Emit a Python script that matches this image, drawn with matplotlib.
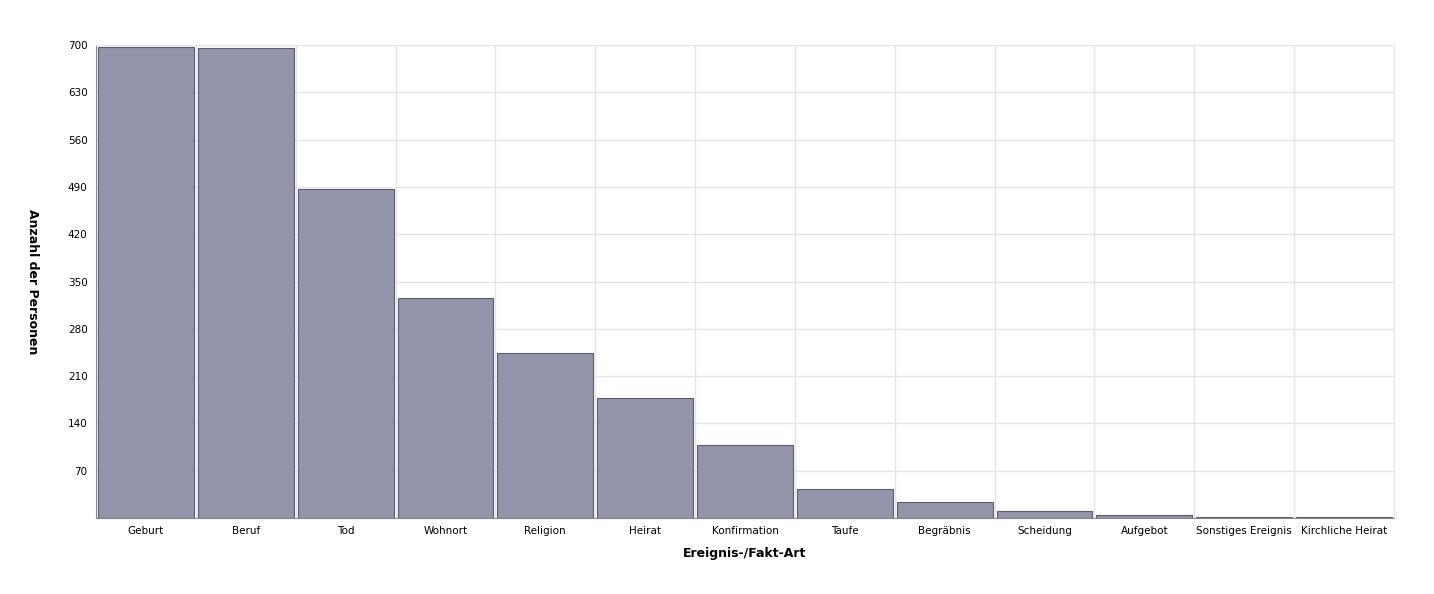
import matplotlib.pyplot as plt
import numpy as np

categories = ['Geburt', 'Beruf', 'Tod', 'Wohnort', 'Religion', 'Heirat', 'Konfirmation',
              'Taufe', 'Begräbnis', 'Scheidung', 'Aufgebot', 'Sonstiges Ereignis', 'Kirchliche Heirat']
counts = [697, 696, 487, 326, 244, 178, 108, 43, 24, 10, 4, 1, 1]
yticks = [70, 140, 210, 280, 350, 420, 490, 560, 630, 700]

fig = plt.figure(figsize=(14.34, 5.94), dpi=100)
ax = fig.add_axes([96 / 1434, 76 / 594, 1298 / 1434, 473 / 594])

x = np.arange(len(categories))
ax.bar(x, counts, width=0.96, color='#9494aa', edgecolor='#5c5c70', linewidth=0.8, zorder=2)

ax.set_xlim(-0.5, len(categories) - 0.5)
ax.set_ylim(0, 700)
ax.set_xticks(x)
ax.set_xticklabels(categories, fontsize=7.5)
ax.set_yticks(yticks)
ax.tick_params(axis='y', labelsize=7.5, length=0, pad=6)
ax.tick_params(axis='x', length=0, pad=6)

ax.set_xticks(np.arange(-0.5, len(categories) + 0.5, 1), minor=True)
ax.grid(axis='x', which='minor', color='#e5e5e5', linewidth=1, zorder=0)
ax.grid(axis='y', which='major', color='#e5e5e5', linewidth=1, zorder=0)
ax.grid(axis='x', which='major', visible=False)
ax.tick_params(axis='x', which='minor', length=0)

for s in ['top', 'right']:
    ax.spines[s].set_color('#e5e5e5')
ax.spines['left'].set_color('#888888')
ax.spines['bottom'].set_color('#888888')

ax.set_xlabel('Ereignis-/Fakt-Art', fontsize=9, fontweight='bold', labelpad=8)
ax.set_ylabel('Anzahl der Personen', fontsize=9, fontweight='bold', labelpad=30, rotation=-90, va='bottom')

fig.savefig('out.png', dpi=100)
